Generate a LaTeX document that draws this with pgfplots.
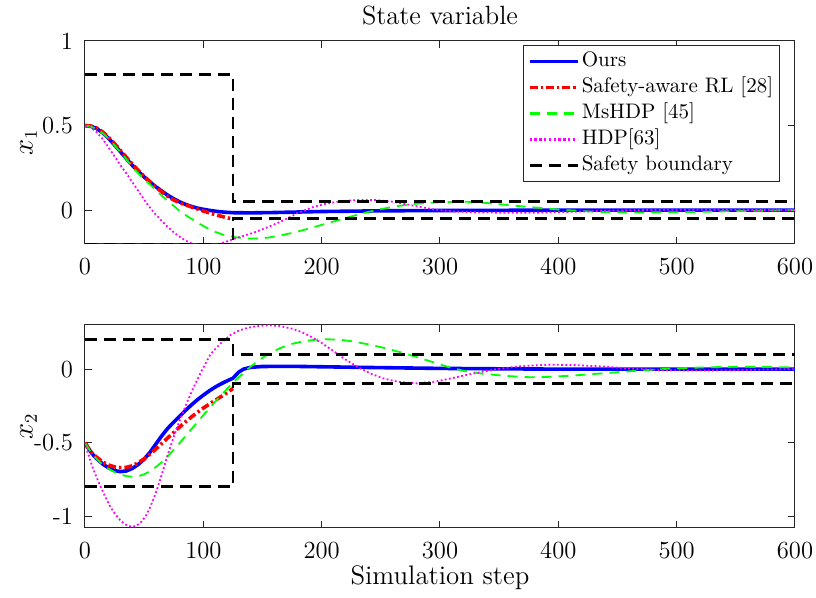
\documentclass[border=0pt]{standalone}
\usepackage{pgfplots}
\pgfplotsset{compat=1.18}
\definecolor{axgray}{gray}{0.15}
\definecolor{mgreen}{rgb}{0,1,0}
\definecolor{mmag}{rgb}{1,0,1}
\definecolor{mblue}{rgb}{0,0,1}
\definecolor{mred}{rgb}{1,0,0}
\begin{document}
\begin{tikzpicture}
\useasboundingbox (-42.5pt,20.5pt) rectangle (365.5pt,-278.5pt);
\pgfplotsset{
 myax/.style={
  scale only axis, width=355pt, height=101.5pt,
  xmin=0, xmax=600, xtick={0,100,200,300,400,500,600},
  axis line style={axgray, line width=0.5pt},
  tick style={axgray, line width=0.5pt},
  major tick length=3.5pt,
  tick align=inside,
  /pgf/number format/assume math mode=true,
  tick label style={font=\fontsize{12.3}{14}\selectfont, text=black},
  xticklabel style={yshift=-3.5pt},
  yticklabel style={xshift=-2.5pt},
  every axis y label/.style={at={(axis description cs:-0.0796,0.5)}, anchor=center, rotate=90, font=\fontsize{13.4}{15}\selectfont},
 },
 ours/.style={color=mblue, line width=1.8pt},
 sarl/.style={color=mred, line width=1.8pt, dash pattern=on 4pt off 1.5pt on 1.2pt off 1.5pt},
 mshdp/.style={color=mgreen, line width=0.9pt, dash pattern=on 5pt off 3.5pt, legend image post style={line width=1.2pt}},
 hdp/.style={color=mmag, line width=0.9pt, dash pattern=on 0.9pt off 1.2pt, legend image post style={line width=1.2pt, dash pattern=on 1.2pt off 1.2pt}},
 safe/.style={color=black, line width=1.4pt, dash pattern=on 6pt off 3.5pt},
}
\begin{axis}[myax, at={(0pt,0pt)}, anchor=north west,
  ymin=-0.2, ymax=1, ytick={0,0.5,1},
  ylabel={$x_1$},
  title={State variable},
  every axis title/.style={at={(axis description cs:0.5,1)}, anchor=base, yshift=8pt, font=\fontsize{13.2}{15}\selectfont},
  legend cell align=left,
  legend image code/.code={\draw[#1] (0pt,0pt) -- (24pt,0pt);},
  legend style={at={(0.979,0.98)}, anchor=north east, fill=white, draw=axgray, line width=0.5pt,
    font=\fontsize{10.5}{12}\selectfont, inner xsep=2pt, inner ysep=1.5pt,
    nodes={inner sep=1.2pt, text height=8pt, text depth=2.6pt}},
]
\addplot[ours] coordinates {(0,0.5)(5,0.496)(10,0.482)(15,0.457)(20,0.424)(25,0.385)(30,0.345)(35,0.304)(40,0.265)(45,0.229)(50,0.196)(55,0.166)(60,0.138)(65,0.112)(70,0.088)(75,0.067)(80,0.049)(85,0.034)(90,0.022)(95,0.012)(100,0.005)(105,-0.001)(110,-0.006)(115,-0.01)(120,-0.013)(125,-0.015)(140,-0.016)(160,-0.014)(180,-0.011)(200,-0.008)(250,-0.004)(300,-0.002)(350,-0.001)(400,0)(600,0)};
\addlegendentry{Ours}
\addplot[sarl] coordinates {(0,0.5)(5,0.497)(10,0.485)(15,0.462)(20,0.43)(25,0.393)(30,0.353)(35,0.312)(40,0.272)(45,0.235)(50,0.2)(55,0.167)(60,0.136)(65,0.107)(70,0.081)(75,0.06)(80,0.044)(85,0.031)(90,0.019)(95,0.007)(100,-0.005)(105,-0.016)(110,-0.027)(115,-0.036)(120,-0.045)(125,-0.053)};
\addlegendentry{Safety-aware RL [28]}
\addplot[mshdp] coordinates {(0,0.5)(5,0.494)(10,0.479)(15,0.455)(20,0.422)(25,0.383)(30,0.342)(35,0.3)(41,0.248)(48,0.196)(56,0.145)(60,0.118)(65,0.085)(70,0.053)(75,0.025)(80,-0.005)(87,-0.038)(94,-0.069)(101,-0.098)(110,-0.128)(117,-0.146)(127,-0.16)(137,-0.167)(145,-0.168)(154,-0.163)(165,-0.15)(179,-0.128)(190,-0.107)(199,-0.089)(210,-0.067)(221,-0.045)(235,-0.018)(249,0.005)(265,0.025)(280,0.038)(300,0.047)(322,0.05)(340,0.042)(355,0.032)(370,0.022)(385,0.013)(404,0.001)(430,-0.009)(460,-0.014)(503,-0.012)(540,-0.007)(570,-0.003)(600,0)};
\addlegendentry{MsHDP [45]}
\addplot[hdp] coordinates {(0,0.5)(5,0.488)(10,0.46)(15,0.42)(20,0.37)(25,0.318)(30,0.265)(37,0.197)(42,0.145)(48,0.083)(53,0.032)(59,-0.02)(65,-0.065)(70,-0.1)(76,-0.137)(82,-0.167)(90,-0.198)(97,-0.213)(103,-0.217)(110,-0.208)(118,-0.19)(125,-0.172)(135,-0.15)(145,-0.127)(155,-0.099)(165,-0.069)(172,-0.045)(179,-0.02)(186,0.0)(193,0.019)(203,0.037)(213,0.049)(222,0.056)(232,0.06)(245,0.06)(260,0.05)(275,0.03)(294,0.005)(310,-0.007)(330,-0.013)(351,-0.015)(380,-0.015)(410,-0.01)(450,-0.002)(500,0.003)(550,0.002)(600,0)};
\addlegendentry{HDP[63]}
\addplot[safe] coordinates {(0,0.8)(125,0.8)(125,0.05)(600,0.05)};
\addlegendentry{Safety boundary}
\addplot[safe, forget plot] coordinates {(0,-0.2)(125,-0.2)(125,-0.05)(600,-0.05)};
\end{axis}
\begin{axis}[myax, at={(0pt,-142pt)}, anchor=north west,
  ymin=-1.08, ymax=0.3, ytick={-1,-0.5,0},
  ylabel={$x_2$},
  xlabel={Simulation step},
  every axis x label/.style={at={(axis description cs:0.5,0)}, anchor=base, yshift=-28.5pt, font=\fontsize{13.4}{15}\selectfont},
]
\addplot[ours] coordinates {(0,-0.5)(3,-0.54)(6,-0.575)(10,-0.61)(15,-0.645)(20,-0.672)(25,-0.69)(30,-0.697)(35,-0.692)(40,-0.675)(45,-0.648)(50,-0.612)(55,-0.565)(60,-0.508)(65,-0.452)(70,-0.402)(75,-0.36)(80,-0.32)(85,-0.28)(90,-0.243)(95,-0.208)(100,-0.177)(105,-0.148)(110,-0.122)(115,-0.1)(120,-0.08)(125,-0.062)(127,-0.045)(130,-0.02)(134,0.0)(140,0.012)(150,0.018)(175,0.019)(200,0.016)(250,0.01)(300,0.005)(350,0.002)(400,0)(600,0)};
\addplot[sarl] coordinates {(0,-0.5)(3,-0.54)(6,-0.57)(10,-0.6)(15,-0.632)(20,-0.652)(25,-0.665)(30,-0.67)(35,-0.668)(40,-0.657)(45,-0.637)(50,-0.61)(55,-0.578)(60,-0.542)(65,-0.505)(70,-0.467)(75,-0.43)(80,-0.393)(85,-0.358)(90,-0.325)(95,-0.294)(100,-0.265)(105,-0.238)(110,-0.212)(115,-0.187)(120,-0.16)(125,-0.132)};
\addplot[mshdp] coordinates {(0,-0.5)(3,-0.54)(6,-0.575)(10,-0.612)(15,-0.65)(20,-0.678)(25,-0.7)(30,-0.716)(35,-0.727)(40,-0.732)(45,-0.728)(50,-0.715)(55,-0.693)(60,-0.665)(65,-0.632)(70,-0.592)(75,-0.548)(80,-0.502)(85,-0.455)(90,-0.407)(95,-0.36)(100,-0.313)(105,-0.267)(110,-0.222)(115,-0.178)(120,-0.135)(125,-0.093)(130,-0.055)(135,-0.018)(140,0.017)(145,0.048)(150,0.077)(156,0.107)(165,0.143)(175,0.172)(185,0.19)(195,0.2)(204,0.203)(215,0.2)(225,0.19)(241,0.166)(255,0.14)(270,0.107)(280,0.083)(295,0.045)(308,0.012)(320,-0.012)(335,-0.03)(351,-0.043)(365,-0.051)(376,-0.055)(390,-0.053)(410,-0.045)(435,-0.03)(465,-0.012)(492,0.002)(520,0.011)(548,0.016)(575,0.015)(600,0.011)};
\addplot[hdp] coordinates {(0,-0.5)(2,-0.56)(4,-0.61)(7,-0.68)(10,-0.74)(13,-0.795)(17,-0.865)(21,-0.93)(25,-0.98)(30,-1.03)(34,-1.055)(37,-1.068)(41,-1.07)(44,-1.062)(48,-1.035)(52,-0.99)(55,-0.94)(58,-0.88)(61,-0.815)(64,-0.74)(67,-0.66)(70,-0.58)(75,-0.46)(80,-0.35)(86,-0.23)(92,-0.12)(99,-0.005)(106,0.1)(114,0.17)(123,0.232)(130,0.262)(137,0.28)(145,0.292)(155,0.298)(165,0.292)(175,0.275)(182,0.255)(190,0.225)(200,0.178)(210,0.122)(220,0.066)(232,0.008)(242,-0.032)(252,-0.063)(265,-0.087)(280,-0.097)(295,-0.086)(310,-0.062)(322,-0.04)(337,-0.016)(351,0.004)(370,0.021)(393,0.03)(415,0.027)(435,0.019)(463,0.003)(490,-0.007)(520,-0.01)(550,-0.007)(575,-0.003)(600,0)};
\addplot[safe] coordinates {(0,0.2)(125,0.2)(125,0.1)(600,0.1)};
\addplot[safe] coordinates {(0,-0.8)(125,-0.8)(125,-0.1)(600,-0.1)};
\end{axis}
\end{tikzpicture}
\end{document}
